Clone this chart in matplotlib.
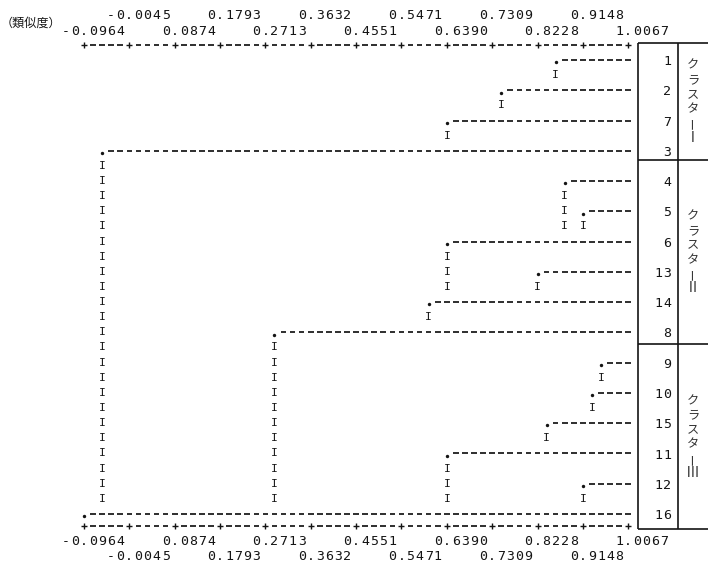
import matplotlib
matplotlib.use("Agg")
import matplotlib.pyplot as plt
from matplotlib.collections import LineCollection

# Similarity scale printed above and below the tree
scale_min = -0.0964
scale_max = 1.0067
major_ticks = ["-0.0964", "0.0874", "0.2713", "0.4551", "0.6390", "0.8228", "1.0067"]
minor_ticks = ["-0.0045", "0.1793", "0.3632", "0.5471", "0.7309", "0.9148"]

# Leaf order (top to bottom) and the similarity at which each row joins the tree
leaves = [1, 2, 7, 3, 4, 5, 6, 13, 14, 8, 9, 10, 15, 11, 12, 16]
join_sim = [0.8596, 0.7493, 0.6390, -0.0596, 0.8780, 0.9148, 0.6390, 0.8228,
            0.6022, 0.2897, 0.9515, 0.9332, 0.8412, 0.6390, 0.9148, -0.0964]

# Cluster names and the leaf rows they span (first, last index in leaf order)
cluster_names = ["クラスターⅠ", "クラスターⅡ", "クラスターⅢ"]
cluster_rows = [(0, 3), (4, 9), (10, 15)]
axis_title = "（類似度）"

INK = "#141414"
MONO = "DejaVu Sans Mono"
CJK = ["Noto Sans CJK JP", "DejaVu Sans"]

W, H = 708, 562
fig = plt.figure(figsize=(W / 100, H / 100), dpi=100)
ax = fig.add_axes([0, 0, 1, 1])
ax.set_axis_off()

# printer grid: 60 character columns across the scale, two print lines per leaf
n_cols = 60
step = (scale_max - scale_min) / n_cols
col_px = 9.07
x0_px = 84
line_px = 15.13
y0_px = 60
ax.set_xlim(scale_min - x0_px / col_px * step,
            scale_min + (W - x0_px) / col_px * step)
ax.set_ylim((H - y0_px) / line_px, -y0_px / line_px)


def col_x(c):
    return scale_min + c * step


def sim_col(s):
    return int(round((s - scale_min) / step))


dash_segs = []


def add_dash(c, y):
    x = col_x(c)
    dash_segs.append([(x - 0.31 * step, y), (x + 0.31 * step, y)])


def put_char(ch, c, y, size=9.5, color=INK, family=MONO, **kw):
    ax.text(col_x(c), y, ch, ha="center", va="baseline", fontsize=size,
            color=color, family=family, **kw)


# --- axis rulers (top and bottom) ---
top_axis, bottom_axis = -1.0, 30.8
plus_x, plus_y = [], []
for yy in (top_axis, bottom_axis):
    for c in range(n_cols + 1):
        if c % 5 == 0:
            plus_x.append(col_x(c))
            plus_y.append(yy)
        else:
            add_dash(c, yy)
ax.scatter(plus_x, plus_y, marker="+", s=24, linewidths=1.0, color=INK, zorder=3)


def put_label(text, tick_col, y):
    dot = text.index(".")
    for k, ch in enumerate(text):
        put_char(ch, tick_col + (k - dot), y)


for i, lab in enumerate(major_ticks):
    put_label(lab, 10 * i, -1.95 + 0.31)
    put_label(lab, 10 * i, 31.72 + 0.31)
for i, lab in enumerate(minor_ticks):
    put_label(lab, 10 * i + 5, -3.0 + 0.31)
    put_label(lab, 10 * i + 5, 32.76 + 0.31)

ax.text(ax.get_xlim()[0] + 0.05 * step, -2.4, axis_title, ha="left",
        va="center", fontsize=8.7, color=INK, family=CJK)

# --- tree rows ---
cols = [sim_col(s) for s in join_sim]
dot_x, dot_y = [], []
for i, c in enumerate(cols):
    y = 2 * i
    dot_x.append(col_x(c))
    dot_y.append(y + 0.15)
    for cc in range(c + 1, n_cols + 1):
        add_dash(cc, y)
    # vertical link down to the first row that reaches further left
    if i < len(cols) - 1:
        j = next((k for k in range(i + 1, len(cols)) if cols[k] < c), len(cols) - 1)
        for yy in range(2 * i + 1, 2 * j):
            ax.text(col_x(c), yy, "I", ha="center", va="center", fontsize=8.2,
                    color=INK, family=MONO)

ax.scatter(dot_x, dot_y, marker="o", s=6, color=INK, linewidths=0, zorder=3)
ax.add_collection(LineCollection(dash_segs, colors=INK, linewidths=1.25))

# --- table of leaf numbers and cluster names ---
box_left, box_mid, box_right = 61.06, 65.47, 69.5
box_top, box_bottom = -1.13, 31.0
seps = [6.6, 18.8]
lw = 1.2
for c in (box_left, box_mid):
    ax.plot([col_x(c)] * 2, [box_top, box_bottom], color=INK, lw=lw,
            solid_capstyle="butt")
for yy in [box_top] + seps + [box_bottom]:
    ax.plot([col_x(box_left), col_x(box_right)], [yy, yy], color=INK, lw=lw,
            solid_capstyle="butt")

for i, leaf in enumerate(leaves):
    s = str(leaf)
    for k, ch in enumerate(s):
        put_char(ch, 64.3 - (len(s) - 1 - k), 2 * i + 0.34)

bands = [box_top] + seps + [box_bottom]
char_pitch = 14.5 / line_px
for n, name in enumerate(cluster_names):
    mid = (bands[n] + bands[n + 1]) / 2
    first = mid - (len(name) - 1) / 2 * char_pitch
    for k, ch in enumerate(name):
        rot = 90 if ch == "ー" else 0
        size = 10 if ch in "ⅠⅡⅢ" else 8.8
        ax.text(col_x(67.14), first + k * char_pitch, ch, ha="center",
                va="center", fontsize=size, color="#333333", family=CJK,
                rotation=rot)

fig.savefig("out.png", dpi=100, facecolor="white")
